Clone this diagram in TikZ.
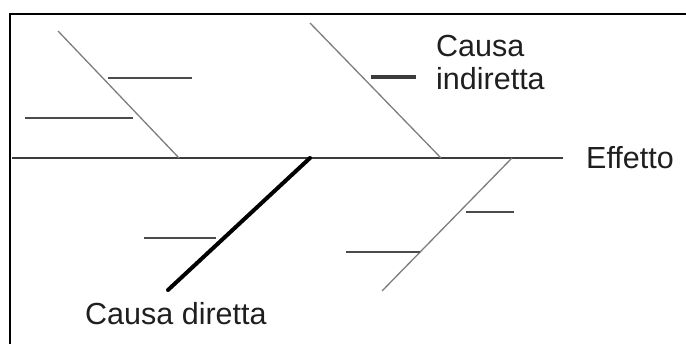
\documentclass[tikz,border=0pt]{standalone}
\usepackage{fontspec}
\setmainfont{Liberation Sans}
\usepackage{tikz}
\usepackage{xcolor}
\usetikzlibrary{positioning}
\definecolor{fbSpine}{RGB}{60,60,60}
\definecolor{fbBone}{RGB}{125,125,125}
\definecolor{fbTwig}{RGB}{75,75,75}
\tikzset{
  spine/.style={draw=fbSpine,line width=1.5pt},
  bone/.style={draw=fbBone,line width=1.3pt},
  twig/.style={draw=fbTwig,line width=1.6pt},
  mainbone/.style={draw=black,line width=4pt,line cap=round},
  label/.style={inner sep=0pt,font=\fontsize{30.5}{34}\selectfont,text=black!88}
}

\begin{document}
\begin{tikzpicture}[x=1pt,y=-1pt]
  \useasboundingbox (0,0) rectangle (686,344);
  \clip (0,0) rectangle (686,344);
  \draw[line width=2.6pt] (10,14) rectangle (720,380);
  % spine
  \coordinate (tail) at (12,158);
  \coordinate (head) at (563,158);
  \draw[spine] (tail) -- (head);
  % upper left bone
  \coordinate (ulTop) at (58,31);
  \coordinate (ulFoot) at (179,158);
  \draw[bone] (ulTop) -- (ulFoot);
  \coordinate (ulA1) at (108,78);  \coordinate (ulA2) at (192,78);
  \coordinate (ulB1) at (25,118);  \coordinate (ulB2) at (133,118);
  \draw[twig] (ulA1) -- (ulA2);
  \draw[twig] (ulB1) -- (ulB2);
  % upper right bone
  \coordinate (urTop) at (310,23);
  \coordinate (urFoot) at (441,158);
  \draw[bone] (urTop) -- (urFoot);
  \coordinate (leg1) at (371,77);  \coordinate (leg2) at (416,77);
  \draw[draw=fbSpine,line width=3.2pt] (leg1) -- (leg2);
  % lower left bone
  \coordinate (llFoot) at (310,158);
  \coordinate (llEnd) at (168,290);
  \draw[mainbone] (llFoot) -- (llEnd);
  \coordinate (llA1) at (144,238);  \coordinate (llA2) at (216,238);
  \draw[draw=fbTwig,line width=1.3pt] (llA1) -- (llA2);
  % lower right bone
  \coordinate (lrFoot) at (512,158);
  \coordinate (lrEnd) at (382,291);
  \draw[bone] (lrFoot) -- (lrEnd);
  \coordinate (lrA1) at (466,212);  \coordinate (lrA2) at (514,212);
  \coordinate (lrB1) at (346,252);  \coordinate (lrB2) at (420,252);
  \draw[twig] (lrA1) -- (lrA2);
  \draw[twig] (lrB1) -- (lrB2);
  % labels
  \node[label,anchor=base west] (indir1) at (436,57) {Causa};
  \node[label,anchor=base west] (indir2) at (436,90) {indiretta};
  \node[label,anchor=base west] (effect) at (586,169) {Effetto};
  \node[label,anchor=base west] (direct) at (85,325) {Causa diretta};
\end{tikzpicture}
\end{document}
